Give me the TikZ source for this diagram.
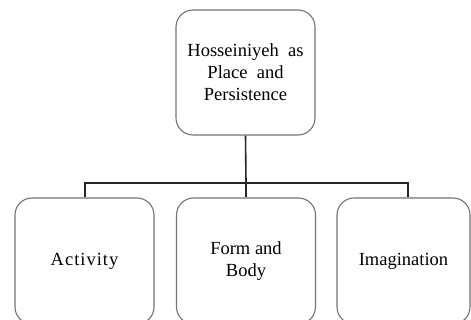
\documentclass[tikz,border=0pt]{standalone}
\usepackage{fontspec}
\setmainfont{Liberation Serif}
\begin{document}
\begin{tikzpicture}[x=1pt,y=-1pt,
  box/.style={draw=black!55, line width=1.1pt, rounded corners=17pt, fill=white,
    minimum width=139pt, inner sep=0pt, align=center,
    font=\fontsize{18.5}{22}\selectfont},
  conn/.style={draw=black!85, line width=1.6pt}]
\clip (0,0) rectangle (471,320);
\useasboundingbox (0,0) rectangle (471,320);
\node[box, minimum height=125pt] (top) at (245.5,72.5) {Hosseiniyeh\ \ as\\Place\ \ and\\Persistence};
\node[box, minimum height=126pt] (act) at (84.5,261) {A\kern1pt c\kern1pt t\kern1pt i\kern1pt v\kern1pt i\kern1pt t\kern1pt y};
\node[box, minimum height=126pt] (form) at (246,261) {Form and\\Body};
\node[box, minimum width=133pt, minimum height=126pt] (imag) at (403.5,261) {Imagination};
\coordinate (bar) at (246,183);
\draw[conn] (top.south) -- (bar);
\draw[conn] ([xshift=0.5pt]act.north) |- (bar) -| ([xshift=4.5pt]imag.north);
\draw[conn] (bar) -- (form.north);
\end{tikzpicture}
\end{document}
